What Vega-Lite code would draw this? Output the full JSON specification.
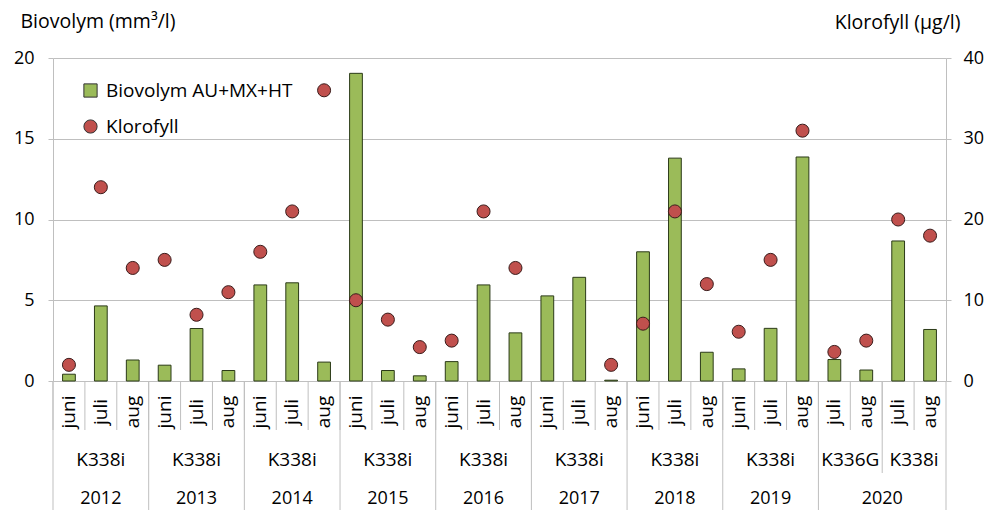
{
  "$schema": "https://vega.github.io/schema/vega-lite/v6.json",
  "width": 893,
  "height": 452,
  "autosize": "none",
  "padding": {"left": 53, "top": 58, "right": 46, "bottom": 0},
  "config": {"view": {"stroke": null}, "font": "Open Sans", "text": {"font": "Open Sans"}},
  "datasets": {
    "main": [
      {"i": 0, "year": "2012", "station": "K338i", "m": "juni", "bio": 0.42, "klor": 2},
      {"i": 1, "year": "2012", "station": "K338i", "m": "juli", "bio": 4.65, "klor": 24},
      {"i": 2, "year": "2012", "station": "K338i", "m": "aug", "bio": 1.3, "klor": 14},
      {"i": 3, "year": "2013", "station": "K338i", "m": "juni", "bio": 0.98, "klor": 15},
      {"i": 4, "year": "2013", "station": "K338i", "m": "juli", "bio": 3.25, "klor": 8.2},
      {"i": 5, "year": "2013", "station": "K338i", "m": "aug", "bio": 0.65, "klor": 11},
      {"i": 6, "year": "2014", "station": "K338i", "m": "juni", "bio": 5.95, "klor": 16},
      {"i": 7, "year": "2014", "station": "K338i", "m": "juli", "bio": 6.08, "klor": 21},
      {"i": 8, "year": "2014", "station": "K338i", "m": "aug", "bio": 1.17, "klor": 36},
      {"i": 9, "year": "2015", "station": "K338i", "m": "juni", "bio": 19.05, "klor": 10},
      {"i": 10, "year": "2015", "station": "K338i", "m": "juli", "bio": 0.65, "klor": 7.6},
      {"i": 11, "year": "2015", "station": "K338i", "m": "aug", "bio": 0.32, "klor": 4.2},
      {"i": 12, "year": "2016", "station": "K338i", "m": "juni", "bio": 1.2, "klor": 5},
      {"i": 13, "year": "2016", "station": "K338i", "m": "juli", "bio": 5.95, "klor": 21},
      {"i": 14, "year": "2016", "station": "K338i", "m": "aug", "bio": 2.98, "klor": 14},
      {"i": 15, "year": "2017", "station": "K338i", "m": "juni", "bio": 5.27, "klor": null},
      {"i": 16, "year": "2017", "station": "K338i", "m": "juli", "bio": 6.42, "klor": null},
      {"i": 17, "year": "2017", "station": "K338i", "m": "aug", "bio": 0.05, "klor": 2},
      {"i": 18, "year": "2018", "station": "K338i", "m": "juni", "bio": 8.0, "klor": 7.1},
      {"i": 19, "year": "2018", "station": "K338i", "m": "juli", "bio": 13.8, "klor": 21},
      {"i": 20, "year": "2018", "station": "K338i", "m": "aug", "bio": 1.78, "klor": 12},
      {"i": 21, "year": "2019", "station": "K338i", "m": "juni", "bio": 0.75, "klor": 6.1},
      {"i": 22, "year": "2019", "station": "K338i", "m": "juli", "bio": 3.26, "klor": 15},
      {"i": 23, "year": "2019", "station": "K338i", "m": "aug", "bio": 13.87, "klor": 31},
      {"i": 24, "year": "2020", "station": "K336G", "m": "juli", "bio": 1.33, "klor": 3.6},
      {"i": 25, "year": "2020", "station": "K336G", "m": "aug", "bio": 0.68, "klor": 5},
      {"i": 26, "year": "2020", "station": "K338i", "m": "juli", "bio": 8.67, "klor": 20},
      {"i": 27, "year": "2020", "station": "K338i", "m": "aug", "bio": 3.19, "klor": 18}
    ],
    "groups3": [
      {"i": 1, "station": "K338i", "year": "2012"},
      {"i": 4, "station": "K338i", "year": "2013"},
      {"i": 7, "station": "K338i", "year": "2014"},
      {"i": 10, "station": "K338i", "year": "2015"},
      {"i": 13, "station": "K338i", "year": "2016"},
      {"i": 16, "station": "K338i", "year": "2017"},
      {"i": 19, "station": "K338i", "year": "2018"},
      {"i": 22, "station": "K338i", "year": "2019"}
    ],
    "stations2": [
      {"i": 25, "station": "K336G"},
      {"i": 27, "station": "K338i"}
    ],
    "years2": [
      {"i": 26, "year": "2020"}
    ],
    "yearStarts": [
      {"i": 0}, {"i": 3}, {"i": 6}, {"i": 9}, {"i": 12}, {"i": 15}, {"i": 18}, {"i": 21}, {"i": 24}
    ],
    "lastCat": [{"i": 27}],
    "stationStarts": [{"i": 26}]
  },
  "layer": [
    {
      "data": {"name": "main"},
      "mark": {"type": "bar", "width": {"band": 0.4}, "stroke": "#2b3a18", "strokeWidth": 1},
      "encoding": {
        "x": {"field": "i", "type": "ordinal", "scale": {"type": "band", "paddingInner": 0, "paddingOuter": 0}, "axis": null},
        "y": {
          "field": "bio", "type": "quantitative",
          "scale": {"domain": [0, 20], "range": [323, 0], "nice": false, "zero": true},
          "axis": {
            "orient": "left", "values": [0, 5, 10, 15, 20], "grid": true, "gridColor": "#bfbfbf",
            "domainColor": "#bfbfbf", "tickColor": "#bfbfbf", "tickSize": 5,
            "labelFontSize": 18, "labelColor": "#000", "labelPadding": 14, "labelFont": "Open Sans",
            "title": "Biovolym (mm³/l)", "titleAngle": 0, "titleAlign": "left", "titleBaseline": "middle",
            "titleX": -33, "titleY": -37, "titleFontSize": 19.5, "titleFontWeight": "normal", "titleColor": "#000", "titleFont": "Open Sans"
          }
        },
        "fill": {
          "datum": "Biovolym AU+MX+HT", "type": "nominal",
          "scale": {"domain": ["Biovolym AU+MX+HT", "Klorofyll"], "range": ["#9bbb59", "#c0504d"]},
          "legend": {
            "orient": "none", "legendX": 28, "legendY": 23, "title": null, "padding": 0,
            "labelFontSize": 19, "labelFont": "Open Sans", "labelColor": "#000", "labelLimit": 0, "symbolSize": 175, "rowPadding": 16, "labelOffset": 6,
            "symbolStrokeColor": "#333333", "symbolStrokeWidth": 1,
            "encode": {"symbols": {"update": {"shape": {"signal": "datum.value === 'Klorofyll' ? 'circle' : 'square'"}}}}
          }
        }
      }
    },
    {
      "data": {"name": "main"},
      "transform": [{"filter": "datum.klor != null"}],
      "mark": {"type": "point", "filled": true, "shape": "circle", "size": 170, "stroke": "#3a1c1b", "strokeWidth": 1, "opacity": 1},
      "encoding": {
        "x": {"field": "i", "type": "ordinal", "axis": null},
        "y": {
          "field": "klor", "type": "quantitative",
          "scale": {"domain": [0, 40], "range": [323, 0], "nice": false, "zero": true},
          "axis": {
            "orient": "right", "values": [0, 10, 20, 30, 40], "grid": false,
            "domainColor": "#bfbfbf", "tickColor": "#bfbfbf", "tickSize": 5,
            "labelFontSize": 18, "labelColor": "#000", "labelPadding": 12, "labelFont": "Open Sans",
            "title": "Klorofyll (µg/l)", "titleAngle": 0, "titleAlign": "right", "titleBaseline": "middle",
            "titleX": 14, "titleY": -36, "titleFontSize": 19.5, "titleFontWeight": "normal", "titleColor": "#000", "titleFont": "Open Sans"
          }
        },
        "fill": {"datum": "Klorofyll", "type": "nominal"}
      }
    },
    {
      "layer": [
        {
          "data": {"name": "main"},
          "mark": {"type": "rule", "color": "#bfbfbf", "strokeWidth": 1},
          "encoding": {
            "x": {"field": "i", "type": "ordinal", "bandPosition": 0, "axis": null},
            "y": {"datum": 0, "type": "quantitative", "scale": {"domain": [0, 129], "range": [323, 452], "nice": false, "zero": false}, "axis": null},
            "y2": {"datum": 49}
          }
        },
        {
          "data": {"name": "yearStarts"},
          "mark": {"type": "rule", "color": "#bfbfbf", "strokeWidth": 1},
          "encoding": {
            "x": {"field": "i", "type": "ordinal", "bandPosition": 0, "axis": null},
            "y": {"datum": 0, "type": "quantitative"},
            "y2": {"datum": 129}
          }
        },
        {
          "data": {"name": "lastCat"},
          "mark": {"type": "rule", "color": "#bfbfbf", "strokeWidth": 1},
          "encoding": {
            "x": {"field": "i", "type": "ordinal", "bandPosition": 1, "axis": null},
            "y": {"datum": 0, "type": "quantitative"},
            "y2": {"datum": 129}
          }
        },
        {
          "data": {"name": "stationStarts"},
          "mark": {"type": "rule", "color": "#bfbfbf", "strokeWidth": 1},
          "encoding": {
            "x": {"field": "i", "type": "ordinal", "bandPosition": 0, "axis": null},
            "y": {"datum": 0, "type": "quantitative"},
            "y2": {"datum": 92}
          }
        },
        {
          "data": {"name": "main"},
          "mark": {"type": "text", "angle": 270, "align": "center", "baseline": "middle", "fontSize": 19, "color": "#000"},
          "encoding": {
            "x": {"field": "i", "type": "ordinal", "axis": null},
            "y": {"datum": 31, "type": "quantitative"},
            "text": {"field": "m"}
          }
        },
        {
          "data": {"name": "groups3"},
          "mark": {"type": "text", "align": "center", "baseline": "middle", "fontSize": 19, "color": "#000"},
          "encoding": {
            "x": {"field": "i", "type": "ordinal", "axis": null},
            "y": {"datum": 79, "type": "quantitative"},
            "text": {"field": "station"}
          }
        },
        {
          "data": {"name": "groups3"},
          "mark": {"type": "text", "align": "center", "baseline": "middle", "fontSize": 18, "color": "#000"},
          "encoding": {
            "x": {"field": "i", "type": "ordinal", "axis": null},
            "y": {"datum": 118, "type": "quantitative"},
            "text": {"field": "year"}
          }
        },
        {
          "data": {"name": "stations2"},
          "mark": {"type": "text", "align": "center", "baseline": "middle", "fontSize": 19, "color": "#000"},
          "encoding": {
            "x": {"field": "i", "type": "ordinal", "bandPosition": 0, "axis": null},
            "y": {"datum": 79, "type": "quantitative"},
            "text": {"field": "station"}
          }
        },
        {
          "data": {"name": "years2"},
          "mark": {"type": "text", "align": "center", "baseline": "middle", "fontSize": 18, "color": "#000"},
          "encoding": {
            "x": {"field": "i", "type": "ordinal", "bandPosition": 0, "axis": null},
            "y": {"datum": 118, "type": "quantitative"},
            "text": {"field": "year"}
          }
        }
      ]
    }
  ],
  "resolve": {"scale": {"y": "independent"}, "axis": {"y": "independent"}}
}
